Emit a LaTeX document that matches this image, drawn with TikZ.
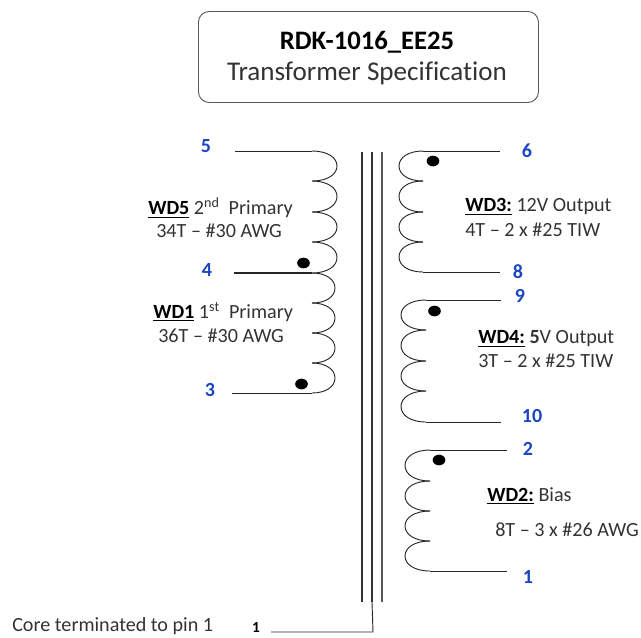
\documentclass[tikz,border=0pt]{standalone}
\usepackage{fontspec}
\setmainfont[Ligatures=NoCommon]{Carlito}
\definecolor{pinblue}{HTML}{1A45C4}
\definecolor{labelgray}{HTML}{333333}
\newcommand{\coilturn}[4]{% xs, xb, y1, y2
  \draw[wire] (#1,#3) .. controls ({#1+0.62*(#2-#1)},#3) and (#2,{#3+0.22*(#4-#3)}) .. (#2,{0.5*(#3+#4)})
     .. controls (#2,{#3+0.78*(#4-#3)}) and ({#1+0.62*(#2-#1)},#4) .. (#1,#4);}
\tikzset{
  wire/.style={line width=0.7pt,draw=black!85},
  corebar/.style={line width=0.85pt,draw=black!80},
  pinlabel/.style={font=\fontsize{15}{16}\selectfont\bfseries,text=pinblue,inner sep=0pt},
  note/.style={font=\fontsize{15.1}{17}\selectfont,text=labelgray,inner sep=0pt,anchor=west},
  phasedot/.style={ellipse,fill=black,minimum width=9.5pt,minimum height=8pt,inner sep=0pt,draw=none},
  titlebox/.style={draw=black!65,line width=0.7pt,rounded corners=8pt,fill=white},
}
\usetikzlibrary{shapes.geometric}
\newcommand{\ul}[1]{\textcolor{black}{\underline{\textbf{#1}}}}
\begin{document}
\begin{tikzpicture}[x=0.75pt,y=-0.75pt]
\useasboundingbox (0,0) rectangle (641,637);
% title
\node[titlebox,minimum width=255pt,minimum height=68.25pt,anchor=north west] (title) at (198,11) {};
\node[inner sep=0pt,font=\fontsize{20}{22}\selectfont\bfseries,text=black] (t1) at (367,42) {RDK-1016\_EE25};
\node[inner sep=0pt,font=\fontsize{20.3}{22}\selectfont,text=labelgray] (t2) at (367,73.5) {Transformer Specification};
% core
\coordinate (coreAtop) at (362,152); \coordinate (coreAbot) at (362,602);
\coordinate (coreBtop) at (372,152); \coordinate (coreBbot) at (372,602);
\coordinate (coreCtop) at (382,152); \coordinate (coreCbot) at (382,602);
\draw[corebar] (coreAtop) -- (coreAbot);
\draw[corebar] (coreBtop) -- (coreBbot);
\draw[corebar,draw=black!65] (coreCtop) -- (coreCbot);
% left windings
\coilturn{312}{337}{151}{181}\coilturn{312}{337}{181}{212}\coilturn{312}{337}{212}{242}\coilturn{312}{337}{242}{273}
\coilturn{312}{335}{273}{303}\coilturn{312}{335}{303}{333}\coilturn{312}{335}{333}{363}\coilturn{312}{335}{363}{393}
% right windings
\coilturn{423}{399}{151}{181}\coilturn{423}{399}{181}{212}\coilturn{423}{399}{212}{242}\coilturn{423}{399}{242}{272}
\coilturn{426}{401}{300}{330}\coilturn{426}{401}{330}{361}\coilturn{426}{401}{361}{391}\coilturn{426}{401}{391}{422}
\coilturn{430}{405}{450}{481}\coilturn{430}{405}{481}{511}\coilturn{430}{405}{511}{541}\coilturn{430}{405}{541}{571}
% pin labels
\node[pinlabel] (p5) at (206,146) {5};
\node[pinlabel] (p4) at (207,270) {4};
\node[pinlabel] (p3) at (210,390) {3};
\node[pinlabel] (p6) at (527,151) {6};
\node[pinlabel] (p8) at (518,272) {8};
\node[pinlabel] (p9) at (520,296) {9};
\node[pinlabel] (p10) at (532,416) {10};
\node[pinlabel] (p2) at (528,449) {2};
\node[pinlabel] (p1) at (528,577) {1};
\node[inner sep=0pt,font=\fontsize{11.5}{12}\selectfont\bfseries,text=black] (pcore) at (256,628) {1};
% lead ends
\coordinate (w5) at (312,151); \coordinate (l5) at (235,151);
\coordinate (w4) at (312,273); \coordinate (l4) at (234,273);
\coordinate (w3) at (312,393); \coordinate (l3) at (232,393);
\coordinate (w6) at (423,151); \coordinate (l6) at (500,151);
\coordinate (w8) at (423,272); \coordinate (l8) at (500,272);
\coordinate (w9) at (426,300); \coordinate (l9) at (501,300);
\coordinate (w10) at (426,422); \coordinate (l10) at (501,422);
\coordinate (w2) at (430,450); \coordinate (l2) at (507,450);
\coordinate (w1) at (430,571); \coordinate (l1) at (507,571);
\draw[wire] (l5) -- (w5);
\draw[wire,line width=1pt] (l4) -- (w4);
\draw[wire] (l3) -- (w3);
\draw[wire] (l6) -- (w6);
\draw[wire] (l8) -- (w8);
\draw[wire] (l9) -- (w9);
\draw[wire] (l10) -- (w10);
\draw[wire] (l2) -- (w2);
\draw[wire] (l1) -- (w1);
% core ground
\coordinate (gndL) at (271,632); \coordinate (gndC) at (373,632);
\draw[wire] (gndL) -- (gndC) -- (coreBbot);
% dots
\node[phasedot] (d1) at (303.5,263) {};
\node[phasedot] (d2) at (301.5,384) {};
\node[phasedot] (d3) at (433,161) {};
\node[phasedot] (d4) at (434.5,311) {};
\node[phasedot] (d5) at (439,460) {};
% notes
\node[note] (n1a) at (148,208) {\ul{WD5} 2\textsuperscript{nd}\ \ Primary};
\node[note] (n1b) at (156,231) {34T – \#30 AWG};
\node[note] (n2a) at (153,312) {\ul{WD1} 1\textsuperscript{st}\ \ Primary};
\node[note] (n2b) at (158,336) {36T – \#30 AWG};
\node[note] (n3a) at (465,207) {\ul{WD3:} 12V Output};
\node[note] (n3b) at (465,230) {4T – 2 x \#25 TIW};
\node[note] (n4a) at (478,339) {\ul{WD4:} \textbf{5}V Output};
\node[note] (n4b) at (478,361) {3T – 2 x \#25 TIW};
\node[note] (n5a) at (487,496) {\ul{WD2:} Bias};
\node[note] (n5b) at (495,530) {8T – 3 x \#26 AWG};
\node[note] (n6) at (12,626.5) {Core terminated to pin 1};
\end{tikzpicture}
\end{document}
